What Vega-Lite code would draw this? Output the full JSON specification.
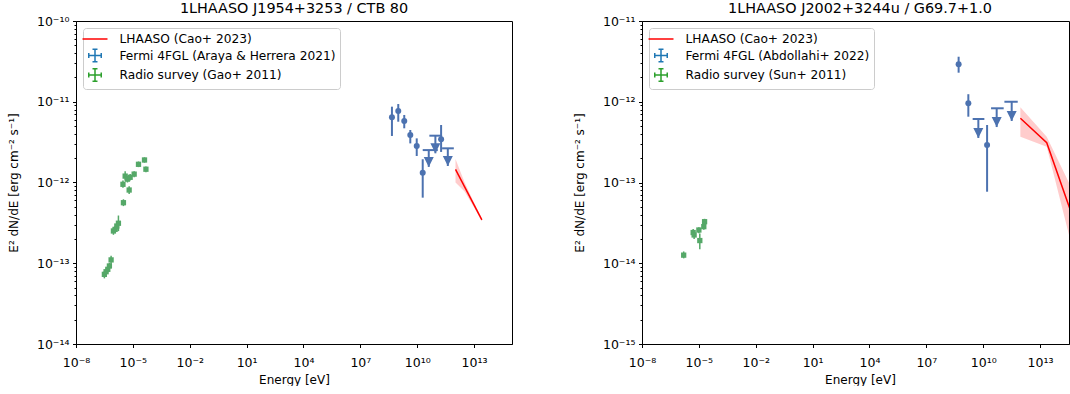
{
  "$schema": "https://vega.github.io/schema/vega-lite/v6.json",
  "padding": {"left": 6, "top": 0, "right": 0, "bottom": 0},
  "spacing": 59,
  "resolve": {"scale": {"x": "independent", "y": "independent", "color": "independent", "shape": "independent"}, "legend": {"color": "independent", "shape": "independent"}},
  "config": {
    "font": "DejaVu Sans",
    "view": {"stroke": "black", "strokeWidth": 1},
    "axis": {"domainColor": "black", "tickColor": "black", "labelColor": "black", "titleColor": "black", "labelFont": "DejaVu Sans", "titleFont": "DejaVu Sans", "labelFontSize": 12.5, "titleFontSize": 12, "titleFontWeight": "normal", "grid": false, "labelFlush": false, "labelOverlap": false, "tickWidth": 1, "domainWidth": 1},
    "title": {"fontSize": 14.4, "fontWeight": "normal", "font": "DejaVu Sans", "color": "black", "baseline": "bottom", "offset": -1}
  },
  "hconcat": [
    {
      "width": 436, "height": 323,
      "title": {"text": "1LHAASO J1954+3253 / CTB 80"},
      "layer": [
        {
          "data": {"values": [
            {"E": 1.047e12, "F": 1.456e-12, "lo": 1.0e-12, "hi": 1.95e-12},
            {"E": 3.16e12, "F": 8.83e-13, "lo": 7.76e-13, "hi": 1.0e-12},
            {"E": 1.0e13, "F": 5.25e-13, "lo": 4.9e-13, "hi": 5.62e-13},
            {"E": 2.57e13, "F": 3.44e-13, "lo": 3.31e-13, "hi": 3.55e-13}
          ]},
          "mark": {"type": "area", "color": "#ff0000", "opacity": 0.2, "clip": true},
          "encoding": {
            "x": {"field": "E", "type": "quantitative", "scale": {"type": "log", "domain": [1e-8, 1e15], "nice": false},
              "axis": {"title": "Energy [eV]", "values": [1e-8, 1e-5, 1e-2, 10, 1e4, 1e7, 1e10, 1e13], "tickSize": 3.5, "labelPadding": 8.5, "titlePadding": 6,
                "labelExpr": "'10' + (round(log(datum.value)/LN10) < 0 ? '⁻' : '') + (abs(round(log(datum.value)/LN10)) >= 10 ? '¹' : '') + substring('⁰¹²³⁴⁵⁶⁷⁸⁹', abs(round(log(datum.value)/LN10)) % 10, abs(round(log(datum.value)/LN10)) % 10 + 1)"}},
            "y": {"field": "hi", "type": "quantitative", "scale": {"type": "log", "domain": [1e-14, 1e-10], "nice": false},
              "axis": {"title": "E² dN/dE [erg cm⁻² s⁻¹]", "titlePadding": 16, "labelPadding": 3.5,
                "values": [1e-14, 2e-14, 3e-14, 4e-14, 5e-14, 6e-14, 7e-14, 8e-14, 9e-14, 1e-13, 2e-13, 3e-13, 4e-13, 5e-13, 6e-13, 7e-13, 8e-13, 9e-13, 1e-12, 2e-12, 3e-12, 4e-12, 5e-12, 6e-12, 7e-12, 8e-12, 9e-12, 1e-11, 2e-11, 3e-11, 4e-11, 5e-11, 6e-11, 7e-11, 8e-11, 9e-11, 1e-10],
                "tickSize": {"condition": {"test": "abs(log(datum.value)/LN10 - round(log(datum.value)/LN10)) > 0.01", "value": 2}, "value": 3.5},
                "labelExpr": "abs(log(datum.value)/LN10 - round(log(datum.value)/LN10)) > 0.01 ? '' : '10' + (round(log(datum.value)/LN10) < 0 ? '⁻' : '') + (abs(round(log(datum.value)/LN10)) >= 10 ? '¹' : '') + substring('⁰¹²³⁴⁵⁶⁷⁸⁹', abs(round(log(datum.value)/LN10)) % 10, abs(round(log(datum.value)/LN10)) % 10 + 1)"}},
            "y2": {"field": "lo"}
          }
        },
        {
          "data": {"values": [
            {"E": 1.047e12, "F": 1.456e-12},
            {"E": 2.57e13, "F": 3.44e-13}
          ]},
          "mark": {"type": "line", "color": "#ff0000", "strokeWidth": 1.5, "clip": true},
          "encoding": {
            "x": {"field": "E", "type": "quantitative", "scale": {"type": "log", "domain": [1e-8, 1e15], "nice": false}},
            "y": {"field": "F", "type": "quantitative", "scale": {"type": "log", "domain": [1e-14, 1e-10], "nice": false}}
          }
        },
        {
          "data": {"values": [
            {"E": 3.14e-7, "F": 7.29e-14, "lo": 6.5e-14, "hi": 8.0e-14},
            {"E": 3.86e-7, "F": 7.85e-14, "lo": 7.2e-14, "hi": 8.6e-14},
            {"E": 4.75e-7, "F": 8.41e-14, "lo": 7.7e-14, "hi": 9.2e-14},
            {"E": 5.78e-7, "F": 9.25e-14, "lo": 8.5e-14, "hi": 1.01e-13},
            {"E": 7.11e-7, "F": 1.1e-13, "lo": 9.8e-14, "hi": 1.24e-13},
            {"E": 9.42e-7, "F": 2.51e-13, "lo": 2.25e-13, "hi": 2.78e-13},
            {"E": 1.156e-6, "F": 2.63e-13, "lo": 2.38e-13, "hi": 2.9e-13},
            {"E": 1.42e-6, "F": 2.89e-13, "lo": 2.55e-13, "hi": 3.2e-13},
            {"E": 1.73e-6, "F": 3.13e-13, "lo": 2.5e-13, "hi": 3.9e-13},
            {"E": 3.18e-6, "F": 5.62e-13, "lo": 5.1e-13, "hi": 6.2e-13},
            {"E": 3.0e-6, "F": 9.5e-13, "lo": 8.6e-13, "hi": 1.06e-12},
            {"E": 3.92e-6, "F": 1.2e-12, "lo": 1.06e-12, "hi": 1.38e-12},
            {"E": 5.18e-6, "F": 1.1e-12, "lo": 1.0e-12, "hi": 1.2e-12},
            {"E": 6.37e-6, "F": 8.07e-13, "lo": 7.2e-13, "hi": 9.0e-13},
            {"E": 7.19e-6, "F": 1.16e-12, "lo": 1.06e-12, "hi": 1.27e-12},
            {"E": 1.17e-5, "F": 1.27e-12, "lo": 1.16e-12, "hi": 1.38e-12},
            {"E": 1.98e-5, "F": 1.68e-12, "lo": 1.55e-12, "hi": 1.82e-12},
            {"E": 4.11e-5, "F": 1.9e-12, "lo": 1.76e-12, "hi": 2.05e-12},
            {"E": 4.88e-5, "F": 1.46e-12, "lo": 1.34e-12, "hi": 1.58e-12}
          ]},
          "layer": [
            {
              "mark": {"type": "rule", "color": "#55a868", "strokeWidth": 1.5},
              "encoding": {
                "x": {"field": "E", "type": "quantitative", "scale": {"type": "log", "domain": [1e-8, 1e15], "nice": false}},
                "y": {"field": "lo", "type": "quantitative", "scale": {"type": "log", "domain": [1e-14, 1e-10], "nice": false}},
                "y2": {"field": "hi"}
              }
            },
            {
              "mark": {"type": "point", "shape": "square", "filled": true, "opacity": 1, "color": "#55a868", "size": 28},
              "encoding": {
                "x": {"field": "E", "type": "quantitative", "scale": {"type": "log", "domain": [1e-8, 1e15], "nice": false}},
                "y": {"field": "F", "type": "quantitative", "scale": {"type": "log", "domain": [1e-14, 1e-10], "nice": false}}
              }
            }
          ]
        },
        {
          "data": {"values": [
            {"E": 4.64e8, "F": 6.41e-12, "lo": 3.77e-12, "hi": 8.69e-12},
            {"E": 1.0e9, "F": 7.67e-12, "lo": 5.66e-12, "hi": 9.37e-12},
            {"E": 2.07e9, "F": 5.78e-12, "lo": 4.69e-12, "hi": 6.86e-12},
            {"E": 4.31e9, "F": 3.87e-12, "lo": 3.05e-12, "hi": 4.47e-12},
            {"E": 9.42e9, "F": 2.83e-12, "lo": 2.13e-12, "hi": 3.52e-12},
            {"E": 1.95e10, "F": 1.32e-12, "lo": 6.49e-13, "hi": 1.94e-12},
            {"E": 1.82e11, "F": 3.43e-12, "lo": 2.39e-12, "hi": 5.15e-12}
          ]},
          "layer": [
            {
              "mark": {"type": "rule", "color": "#4c72b0", "strokeWidth": 2},
              "encoding": {
                "x": {"field": "E", "type": "quantitative", "scale": {"type": "log", "domain": [1e-8, 1e15], "nice": false}},
                "y": {"field": "lo", "type": "quantitative", "scale": {"type": "log", "domain": [1e-14, 1e-10], "nice": false}},
                "y2": {"field": "hi"}
              }
            },
            {
              "mark": {"type": "point", "shape": "circle", "filled": true, "opacity": 1, "color": "#4c72b0", "size": 36},
              "encoding": {
                "x": {"field": "E", "type": "quantitative", "scale": {"type": "log", "domain": [1e-8, 1e15], "nice": false}},
                "y": {"field": "F", "type": "quantitative", "scale": {"type": "log", "domain": [1e-14, 1e-10], "nice": false}}
              }
            }
          ]
        },
        {
          "data": {"values": [
            {"E": 4.06e10, "Elo": 1.95e10, "Ehi": 1.22e11, "F": 2.52e-12, "lo": 1.56e-12},
            {"E": 9.08e10, "Elo": 4.37e10, "Ehi": 2.05e11, "F": 3.8e-12, "lo": 2.3e-12},
            {"E": 4.11e11, "Elo": 2.05e11, "Ehi": 8.53e11, "F": 2.65e-12, "lo": 1.6e-12}
          ]},
          "layer": [
            {
              "mark": {"type": "rule", "color": "#4c72b0", "strokeWidth": 2},
              "encoding": {
                "x": {"field": "Elo", "type": "quantitative", "scale": {"type": "log", "domain": [1e-8, 1e15], "nice": false}},
                "x2": {"field": "Ehi"},
                "y": {"field": "F", "type": "quantitative", "scale": {"type": "log", "domain": [1e-14, 1e-10], "nice": false}}
              }
            },
            {
              "mark": {"type": "rule", "color": "#4c72b0", "strokeWidth": 2},
              "encoding": {
                "x": {"field": "E", "type": "quantitative", "scale": {"type": "log", "domain": [1e-8, 1e15], "nice": false}},
                "y": {"field": "lo", "type": "quantitative", "scale": {"type": "log", "domain": [1e-14, 1e-10], "nice": false}},
                "y2": {"field": "F"}
              }
            },
            {
              "mark": {"type": "point", "shape": "M-1,-2L1,-2L0,0Z", "filled": true, "opacity": 1, "color": "#4c72b0", "size": 100, "strokeWidth": 0},
              "encoding": {
                "x": {"field": "E", "type": "quantitative", "scale": {"type": "log", "domain": [1e-8, 1e15], "nice": false}},
                "y": {"field": "lo", "type": "quantitative", "scale": {"type": "log", "domain": [1e-14, 1e-10], "nice": false}}
              }
            }
          ]
        },
        {
          "data": {"values": [
            {"s": "LHAASO (Cao+ 2023)"},
            {"s": "Fermi 4FGL (Araya & Herrera 2021)"},
            {"s": "Radio survey (Gao+ 2011)"}
          ]},
          "mark": {"type": "point", "filled": false, "opacity": 0, "strokeWidth": 1.5},
          "encoding": {
            "color": {"field": "s", "type": "nominal",
              "scale": {"domain": ["LHAASO (Cao+ 2023)", "Fermi 4FGL (Araya & Herrera 2021)", "Radio survey (Gao+ 2011)"], "range": ["#ff0000", "#1f77b4", "#2ca02c"]},
              "legend": {"title": null, "orient": "top-left", "offset": 7, "padding": 4, "symbolOffset": 1, "labelOffset": 17.5, "rowPadding": -0.5, "symbolSize": 156, "symbolStrokeWidth": 1.5, "symbolOpacity": 1, "labelFontSize": 12.2, "labelFont": "DejaVu Sans", "labelColor": "black", "fillColor": "rgba(255,255,255,0.8)", "strokeColor": "#cccccc", "cornerRadius": 3, "labelLimit": 400}},
            "shape": {"field": "s", "type": "nominal",
              "scale": {"domain": ["LHAASO (Cao+ 2023)", "Fermi 4FGL (Araya & Herrera 2021)", "Radio survey (Gao+ 2011)"], "range": ["M-2,0H2", "M-1,0H1M0,-1V1M-1,-0.4V0.4M1,-0.4V0.4M-0.4,-1H0.4M-0.4,1H0.4", "M-1,0H1M0,-1V1M-1,-0.4V0.4M1,-0.4V0.4M-0.4,-1H0.4M-0.4,1H0.4"]}}
          }
        }
      ]
    },
    {
      "width": 427, "height": 323,
      "title": {"text": "1LHAASO J2002+3244u / G69.7+1.0", "dx": 4.5},
      "layer": [
        {
          "data": {"values": [
            {"E": 9.12e11, "F": 6.24e-13, "lo": 3.69e-13, "hi": 8.53e-13},
            {"E": 2.24e13, "F": 3.11e-13, "lo": 2.77e-13, "hi": 3.69e-13},
            {"E": 2.88e14, "F": 5.62e-14, "lo": 2.58e-14, "hi": 1.07e-13},
            {"E": 3.98e14, "F": 4.54e-14, "lo": 1.91e-14, "hi": 9.18e-14}
          ]},
          "mark": {"type": "area", "color": "#ff0000", "opacity": 0.2, "clip": true},
          "encoding": {
            "x": {"field": "E", "type": "quantitative", "scale": {"type": "log", "domain": [1e-8, 3.35e14], "nice": false},
              "axis": {"title": "Energy [eV]", "values": [1e-8, 1e-5, 1e-2, 10, 1e4, 1e7, 1e10, 1e13], "tickSize": 3.5, "labelPadding": 8.5, "titlePadding": 6, "titleX": 218,
                "labelExpr": "'10' + (round(log(datum.value)/LN10) < 0 ? '⁻' : '') + (abs(round(log(datum.value)/LN10)) >= 10 ? '¹' : '') + substring('⁰¹²³⁴⁵⁶⁷⁸⁹', abs(round(log(datum.value)/LN10)) % 10, abs(round(log(datum.value)/LN10)) % 10 + 1)"}},
            "y": {"field": "hi", "type": "quantitative", "scale": {"type": "log", "domain": [1e-15, 1e-11], "nice": false},
              "axis": {"title": "E² dN/dE [erg cm⁻² s⁻¹]", "titlePadding": 16, "labelPadding": 3.5,
                "values": [1e-15, 2e-15, 3e-15, 4e-15, 5e-15, 6e-15, 7e-15, 8e-15, 9e-15, 1e-14, 2e-14, 3e-14, 4e-14, 5e-14, 6e-14, 7e-14, 8e-14, 9e-14, 1e-13, 2e-13, 3e-13, 4e-13, 5e-13, 6e-13, 7e-13, 8e-13, 9e-13, 1e-12, 2e-12, 3e-12, 4e-12, 5e-12, 6e-12, 7e-12, 8e-12, 9e-12, 1e-11],
                "tickSize": {"condition": {"test": "abs(log(datum.value)/LN10 - round(log(datum.value)/LN10)) > 0.01", "value": 2}, "value": 3.5},
                "labelExpr": "abs(log(datum.value)/LN10 - round(log(datum.value)/LN10)) > 0.01 ? '' : '10' + (round(log(datum.value)/LN10) < 0 ? '⁻' : '') + (abs(round(log(datum.value)/LN10)) >= 10 ? '¹' : '') + substring('⁰¹²³⁴⁵⁶⁷⁸⁹', abs(round(log(datum.value)/LN10)) % 10, abs(round(log(datum.value)/LN10)) % 10 + 1)"}},
            "y2": {"field": "lo"}
          }
        },
        {
          "data": {"values": [
            {"E": 9.12e11, "F": 6.24e-13},
            {"E": 2.24e13, "F": 3.11e-13},
            {"E": 2.88e14, "F": 5.62e-14},
            {"E": 3.98e14, "F": 4.54e-14}
          ]},
          "mark": {"type": "line", "color": "#ff0000", "strokeWidth": 1.5, "clip": true},
          "encoding": {
            "x": {"field": "E", "type": "quantitative", "scale": {"type": "log", "domain": [1e-8, 3.35e14], "nice": false}},
            "y": {"field": "F", "type": "quantitative", "scale": {"type": "log", "domain": [1e-15, 1e-11], "nice": false}}
          }
        },
        {
          "data": {"values": [
            {"E": 1.58e-6, "F": 1.26e-14, "lo": 1.15e-14, "hi": 1.4e-14},
            {"E": 5.0e-6, "F": 2.4e-14, "lo": 2.15e-14, "hi": 2.65e-14},
            {"E": 5.62e-6, "F": 2.24e-14, "lo": 2.0e-14, "hi": 2.5e-14},
            {"E": 1.0e-5, "F": 2.58e-14, "lo": 2.35e-14, "hi": 2.8e-14},
            {"E": 1.12e-5, "F": 1.91e-14, "lo": 1.49e-14, "hi": 2.34e-14},
            {"E": 1.82e-5, "F": 2.84e-14, "lo": 2.6e-14, "hi": 3.1e-14},
            {"E": 2.0e-5, "F": 3.27e-14, "lo": 3.0e-14, "hi": 3.55e-14}
          ]},
          "layer": [
            {
              "mark": {"type": "rule", "color": "#55a868", "strokeWidth": 1.5},
              "encoding": {
                "x": {"field": "E", "type": "quantitative", "scale": {"type": "log", "domain": [1e-8, 3.35e14], "nice": false}},
                "y": {"field": "lo", "type": "quantitative", "scale": {"type": "log", "domain": [1e-15, 1e-11], "nice": false}},
                "y2": {"field": "hi"}
              }
            },
            {
              "mark": {"type": "point", "shape": "square", "filled": true, "opacity": 1, "color": "#55a868", "size": 28},
              "encoding": {
                "x": {"field": "E", "type": "quantitative", "scale": {"type": "log", "domain": [1e-8, 3.35e14], "nice": false}},
                "y": {"field": "F", "type": "quantitative", "scale": {"type": "log", "domain": [1e-15, 1e-11], "nice": false}}
              }
            }
          ]
        },
        {
          "data": {"values": [
            {"E": 5.04e8, "F": 2.91e-12, "lo": 2.29e-12, "hi": 3.61e-12},
            {"E": 1.64e9, "F": 9.57e-13, "lo": 6.53e-13, "hi": 1.24e-12},
            {"E": 1.6e10, "F": 2.91e-13, "lo": 7.69e-14, "hi": 5.15e-13}
          ]},
          "layer": [
            {
              "mark": {"type": "rule", "color": "#4c72b0", "strokeWidth": 2},
              "encoding": {
                "x": {"field": "E", "type": "quantitative", "scale": {"type": "log", "domain": [1e-8, 3.35e14], "nice": false}},
                "y": {"field": "lo", "type": "quantitative", "scale": {"type": "log", "domain": [1e-15, 1e-11], "nice": false}},
                "y2": {"field": "hi"}
              }
            },
            {
              "mark": {"type": "point", "shape": "circle", "filled": true, "opacity": 1, "color": "#4c72b0", "size": 36},
              "encoding": {
                "x": {"field": "E", "type": "quantitative", "scale": {"type": "log", "domain": [1e-8, 3.35e14], "nice": false}},
                "y": {"field": "F", "type": "quantitative", "scale": {"type": "log", "domain": [1e-15, 1e-11], "nice": false}}
              }
            }
          ]
        },
        {
          "data": {"values": [
            {"E": 5.53e9, "Elo": 2.77e9, "Ehi": 1.15e10, "F": 6.11e-13, "lo": 3.56e-13},
            {"E": 5.13e10, "Elo": 2.59e10, "Ehi": 1.2e11, "F": 8.3e-13, "lo": 4.86e-13},
            {"E": 3.18e11, "Elo": 1.31e11, "Ehi": 6.61e11, "F": 1.0e-12, "lo": 5.78e-13}
          ]},
          "layer": [
            {
              "mark": {"type": "rule", "color": "#4c72b0", "strokeWidth": 2},
              "encoding": {
                "x": {"field": "Elo", "type": "quantitative", "scale": {"type": "log", "domain": [1e-8, 3.35e14], "nice": false}},
                "x2": {"field": "Ehi"},
                "y": {"field": "F", "type": "quantitative", "scale": {"type": "log", "domain": [1e-15, 1e-11], "nice": false}}
              }
            },
            {
              "mark": {"type": "rule", "color": "#4c72b0", "strokeWidth": 2},
              "encoding": {
                "x": {"field": "E", "type": "quantitative", "scale": {"type": "log", "domain": [1e-8, 3.35e14], "nice": false}},
                "y": {"field": "lo", "type": "quantitative", "scale": {"type": "log", "domain": [1e-15, 1e-11], "nice": false}},
                "y2": {"field": "F"}
              }
            },
            {
              "mark": {"type": "point", "shape": "M-1,-2L1,-2L0,0Z", "filled": true, "opacity": 1, "color": "#4c72b0", "size": 100, "strokeWidth": 0},
              "encoding": {
                "x": {"field": "E", "type": "quantitative", "scale": {"type": "log", "domain": [1e-8, 3.35e14], "nice": false}},
                "y": {"field": "lo", "type": "quantitative", "scale": {"type": "log", "domain": [1e-15, 1e-11], "nice": false}}
              }
            }
          ]
        },
        {
          "data": {"values": [
            {"s": "LHAASO (Cao+ 2023)"},
            {"s": "Fermi 4FGL (Abdollahi+ 2022)"},
            {"s": "Radio survey (Sun+ 2011)"}
          ]},
          "mark": {"type": "point", "filled": false, "opacity": 0, "strokeWidth": 1.5},
          "encoding": {
            "color": {"field": "s", "type": "nominal",
              "scale": {"domain": ["LHAASO (Cao+ 2023)", "Fermi 4FGL (Abdollahi+ 2022)", "Radio survey (Sun+ 2011)"], "range": ["#ff0000", "#1f77b4", "#2ca02c"]},
              "legend": {"title": null, "orient": "top-left", "offset": 7, "padding": 4, "symbolOffset": 1, "labelOffset": 17.5, "rowPadding": -0.5, "symbolSize": 156, "symbolStrokeWidth": 1.5, "symbolOpacity": 1, "labelFontSize": 12.2, "labelFont": "DejaVu Sans", "labelColor": "black", "fillColor": "rgba(255,255,255,0.8)", "strokeColor": "#cccccc", "cornerRadius": 3, "labelLimit": 400}},
            "shape": {"field": "s", "type": "nominal",
              "scale": {"domain": ["LHAASO (Cao+ 2023)", "Fermi 4FGL (Abdollahi+ 2022)", "Radio survey (Sun+ 2011)"], "range": ["M-2,0H2", "M-1,0H1M0,-1V1M-1,-0.4V0.4M1,-0.4V0.4M-0.4,-1H0.4M-0.4,1H0.4", "M-1,0H1M0,-1V1M-1,-0.4V0.4M1,-0.4V0.4M-0.4,-1H0.4M-0.4,1H0.4"]}}
          }
        }
      ]
    }
  ]
}
